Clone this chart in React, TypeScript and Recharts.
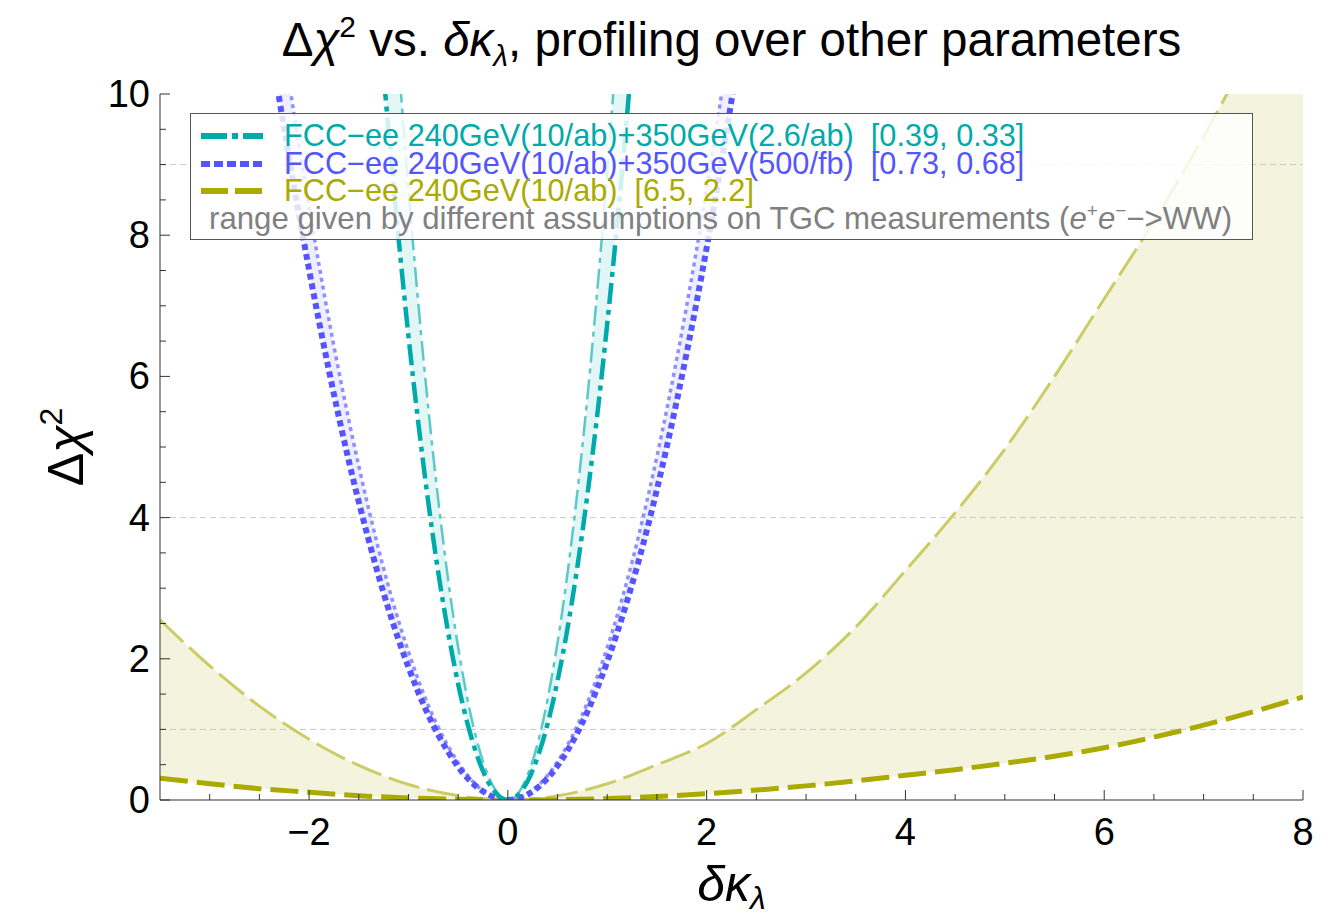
import React from 'react';
import { ComposedChart, Line, Area, XAxis, YAxis, ReferenceLine } from 'recharts';

// values (delta kappa_lambda vs delta chi^2)
const tealX = [-1.4, -1.3, -1.2, -1.1, -1.0, -0.9, -0.8, -0.7, -0.6, -0.5, -0.4, -0.3, -0.2, -0.1, 0, 0.1, 0.2, 0.3, 0.4, 0.5, 0.6, 0.7, 0.8, 0.9, 1.0, 1.1, 1.2, 1.3, 1.4];
const tealMain = [12.89, 11.11, 9.47, 7.96, 6.57, 5.33, 4.21, 3.22, 2.37, 1.64, 1.05, 0.59, 0.26, 0.07, 0, 0.07, 0.27, 0.61, 1.08, 1.69, 2.43, 3.31, 4.32, 5.46, 6.75, 8.16, 9.71, 11.4, 13.2];
const tealAlt = [16.96, 14.62, 12.46, 10.47, 8.65, 7.01, 5.54, 4.24, 3.11, 2.16, 1.38, 0.78, 0.35, 0.09, 0, 0.09, 0.36, 0.8, 1.43, 2.23, 3.21, 4.37, 5.7, 7.22, 8.91, 10.78, 12.83, 15.06, 17.46];

const blueX = [-2.4, -2.2, -2.0, -1.8, -1.6, -1.4, -1.2, -1.0, -0.8, -0.6, -0.4, -0.2, 0, 0.2, 0.4, 0.6, 0.8, 1.0, 1.2, 1.4, 1.6, 1.8, 2.0, 2.2, 2.4];
const blueMain = [10.81, 9.08, 7.51, 6.08, 4.8, 3.68, 2.7, 1.88, 1.2, 0.68, 0.3, 0.08, 0, 0.08, 0.31, 0.7, 1.25, 1.96, 2.82, 3.83, 5.01, 6.34, 7.82, 9.47, 11.27];
const blueAlt = [12.1, 10.16, 8.4, 6.8, 5.38, 4.12, 3.02, 2.1, 1.34, 0.76, 0.34, 0.08, 0, 0.09, 0.35, 0.78, 1.38, 2.16, 3.11, 4.24, 5.54, 7.01, 8.65, 10.47, 12.46];

const oliveX = [-3.5, -3, -2.5, -2, -1.5, -1, -0.5, 0, 0.5, 1, 1.5, 2, 2.5, 3, 3.5, 4, 4.5, 5, 5.5, 6, 6.5, 7, 7.5, 8];
const oliveMain = [0.31, 0.23, 0.16, 0.11, 0.06, 0.03, 0.01, 0, 0.005, 0.02, 0.05, 0.09, 0.14, 0.2, 0.27, 0.35, 0.43, 0.52, 0.62, 0.74, 0.89, 1.06, 1.25, 1.46];
const oliveAlt = [2.55, 1.9, 1.33, 0.86, 0.49, 0.22, 0.06, 0, 0.06, 0.23, 0.5, 0.8, 1.28, 1.8, 2.45, 3.25, 4.07, 4.97, 6.0, 7.1, 8.2, 9.4, 10.7, 12.1];

const xTicks = [-3, -2.5, -2, -1.5, -1, -0.5, 0, 0.5, 1, 1.5, 2, 2.5, 3, 3.5, 4, 4.5, 5, 5.5, 6, 6.5, 7, 7.5, 8];
const xLabeled = [-2, 0, 2, 4, 6, 8];
const yTicks = [0, 0.5, 1, 1.5, 2, 2.5, 3, 3.5, 4, 4.5, 5, 5.5, 6, 6.5, 7, 7.5, 8, 8.5, 9, 9.5, 10];
const yLabeled = [0, 2, 4, 6, 8, 10];
const gridY = [1, 4, 9];

const legendNames = [
  'FCC\u2212ee 240GeV(10/ab)+350GeV(2.6/ab)  [0.39, 0.33]',
  'FCC\u2212ee 240GeV(10/ab)+350GeV(500/fb)  [0.73, 0.68]',
  'FCC\u2212ee 240GeV(10/ab)  [6.5, 2.2]',
];

const FONT = '"Liberation Sans", Arial, Helvetica, sans-serif';
const TEAL = '#00aaaa';
const BLUE = '#5555ff';
const OLIVE = '#aaaa00';
const FRAME = '#333';

const pts = (xs: number[], ys: number[]) => xs.map((x, i) => ({ x, y: ys[i] }));
const band = (xs: number[], lo: number[], hi: number[]) => xs.map((x, i) => ({ x, band: [lo[i], hi[i]] }));

const fmt = (v: number) => (v < 0 ? '\u2212' + Math.abs(v) : String(v));

const BottomTick = (props: any) => {
  const { x, y, payload } = props;
  const major = xLabeled.includes(payload.value);
  return (
    <g>
      <line x1={x} x2={x} y1={y} y2={y - (major ? 10 : 6)} stroke={FRAME} />
      {major && (
        <text x={x} y={y + 45} textAnchor="middle" fontSize={38} fontFamily={FONT} fill="#000">
          {fmt(payload.value)}
        </text>
      )}
    </g>
  );
};

const TopTick = (props: any) => {
  const { x, y, payload } = props;
  const major = xLabeled.includes(payload.value);
  return <line x1={x} x2={x} y1={y} y2={y + (major ? 10 : 6)} stroke={FRAME} />;
};

const LeftTick = (props: any) => {
  const { x, y, payload } = props;
  const major = yLabeled.includes(payload.value);
  return (
    <g>
      <line x1={x} x2={x + (major ? 10 : 6)} y1={y} y2={y} stroke={FRAME} />
      {major && (
        <text x={x - 10} y={y + 13} textAnchor="end" fontSize={38} fontFamily={FONT} fill="#000">
          {fmt(payload.value)}
        </text>
      )}
    </g>
  );
};

const RightTick = (props: any) => {
  const { x, y, payload } = props;
  const major = yLabeled.includes(payload.value);
  return <line x1={x} x2={x - (major ? 10 : 6)} y1={y} y2={y} stroke={FRAME} />;
};

const Swatch = ({ color, dash, width }: { color: string; dash: string; width: number }) => (
  <svg width={62} height={12} style={{ position: 'absolute', left: 10, top: 8 }}>
    <line x1={0} x2={62} y1={6} y2={6} stroke={color} strokeWidth={width} strokeDasharray={dash} />
  </svg>
);

const App: React.FC = () => {
  const swatches = [
    { color: TEAL, dash: '26 5 6 5', width: 6 },
    { color: BLUE, dash: '9 4', width: 6 },
    { color: OLIVE, dash: '27 7', width: 6 },
  ];

  return (
    <div style={{ position: 'relative', width: 1316, height: 903, fontFamily: FONT }}>
      <ComposedChart width={1316} height={903} margin={{ top: 86, right: 21, bottom: 51, left: 52 }}>
        <XAxis
          dataKey="x"
          type="number"
          domain={[-3.5, 8]}
          allowDataOverflow
          ticks={xTicks}
          interval={0}
          height={60}
          tickSize={0}
          tickMargin={0}
          tickLine={false}
          axisLine={{ stroke: FRAME }}
          tick={<BottomTick />}
        />
        <XAxis
          xAxisId="top"
          orientation="top"
          dataKey="x"
          type="number"
          domain={[-3.5, 8]}
          allowDataOverflow
          ticks={xTicks}
          interval={0}
          height={0}
          tickSize={0}
          tickMargin={0}
          tickLine={false}
          axisLine={{ stroke: FRAME }}
          tick={<TopTick />}
        />
        <YAxis
          type="number"
          domain={[0, 10]}
          allowDataOverflow
          ticks={yTicks}
          interval={0}
          width={100}
          tickSize={0}
          tickMargin={0}
          tickLine={false}
          axisLine={{ stroke: FRAME }}
          tick={<LeftTick />}
        />
        <YAxis
          yAxisId="right"
          orientation="right"
          type="number"
          domain={[0, 10]}
          allowDataOverflow
          ticks={yTicks}
          interval={0}
          width={0}
          tickSize={0}
          tickMargin={0}
          tickLine={false}
          axisLine={{ stroke: FRAME }}
          tick={<RightTick />}
        />

        {gridY.map((g) => (
          <ReferenceLine key={g} y={g} stroke="#c8c8c8" strokeDasharray="6 4" />
        ))}

        <Area data={band(oliveX, oliveMain, oliveAlt)} dataKey="band" type="monotone" stroke="none" fill={OLIVE} fillOpacity={0.13} isAnimationActive={false} />
        <Area data={band(blueX, blueMain, blueAlt)} dataKey="band" type="monotone" stroke="none" fill={BLUE} fillOpacity={0.1} isAnimationActive={false} />
        <Area data={band(tealX, tealMain, tealAlt)} dataKey="band" type="monotone" stroke="none" fill={TEAL} fillOpacity={0.11} isAnimationActive={false} />

        <Line data={pts(oliveX, oliveAlt)} dataKey="y" type="monotone" stroke="#cccc66" strokeWidth={3} strokeDasharray="32 8" dot={false} isAnimationActive={false} />
        <Line data={pts(oliveX, oliveMain)} dataKey="y" type="monotone" stroke={OLIVE} strokeWidth={5} strokeDasharray="28 9" dot={false} isAnimationActive={false} />
        <Line data={pts(blueX, blueAlt)} dataKey="y" type="monotone" stroke="#8f8fff" strokeWidth={3.5} strokeDasharray="4 4" dot={false} isAnimationActive={false} />
        <Line data={pts(blueX, blueMain)} dataKey="y" type="monotone" stroke={BLUE} strokeWidth={6} strokeDasharray="6 4" dot={false} isAnimationActive={false} />
        <Line data={pts(tealX, tealAlt)} dataKey="y" type="monotone" stroke="#5cc8c8" strokeWidth={2.5} strokeDasharray="20 6 5 6" dot={false} isAnimationActive={false} />
        <Line data={pts(tealX, tealMain)} dataKey="y" type="monotone" stroke={TEAL} strokeWidth={4.5} strokeDasharray="21 6 5 6" dot={false} isAnimationActive={false} />
      </ComposedChart>

      {/* title */}
      <div style={{ position: 'absolute', left: 152, width: 1143, top: 8, textAlign: 'center', fontSize: 47.5, lineHeight: '48px', whiteSpace: 'nowrap' }}>
        Δ<i>χ</i>
        <span style={{ fontSize: 30, position: 'relative', top: -19 }}>2</span> vs. <i>δκ</i>
        <span style={{ fontSize: 30, position: 'relative', top: 10 }}>
          <i>λ</i>
        </span>
        , profiling over other parameters
      </div>

      {/* x label */}
      <div style={{ position: 'absolute', left: 152, width: 1143, top: 851, textAlign: 'center', fontSize: 50, lineHeight: '50px' }}>
        <i>δκ</i>
        <span style={{ fontSize: 32, position: 'relative', top: 8 }}>
          <i>λ</i>
        </span>
      </div>

      {/* y label */}
      <div
        style={{
          position: 'absolute',
          left: -42,
          top: 414,
          width: 200,
          height: 50,
          lineHeight: '50px',
          fontSize: 50,
          textAlign: 'center',
          transform: 'rotate(-90deg)',
        }}
      >
        Δ<i>χ</i>
        <span style={{ fontSize: 32, position: 'relative', top: -21 }}>2</span>
      </div>

      {/* legend */}
      <div
        style={{
          position: 'absolute',
          left: 182,
          top: 105,
          width: 1061,
          height: 117,
          background: 'rgba(255,255,255,0.82)',
          border: '1px solid #555',
          fontSize: 30.7,
          lineHeight: '27.7px',
          paddingTop: 8,
          boxSizing: 'content-box',
        }}
      >
        {legendNames.map((name, i) => (
          <div key={name} style={{ position: 'relative', height: 27.7, whiteSpace: 'pre', color: swatches[i].color }}>
            <Swatch {...swatches[i]} />
            <span style={{ position: 'absolute', left: 93 }}>{name}</span>
          </div>
        ))}
        <div style={{ position: 'relative', height: 27.7, whiteSpace: 'pre', color: '#808080', fontSize: 31.2 }}>
          <span style={{ position: 'absolute', left: 18 }}>
            range given by different assumptions on TGC measurements (<i>e</i>
            <span style={{ fontSize: 19, position: 'relative', top: -12 }}>+</span>
            <i>e</i>
            <span style={{ fontSize: 19, position: 'relative', top: -12 }}>{'\u2212'}</span>
            {'\u2212>WW)'}
          </span>
        </div>
      </div>
    </div>
  );
};

export default App;
